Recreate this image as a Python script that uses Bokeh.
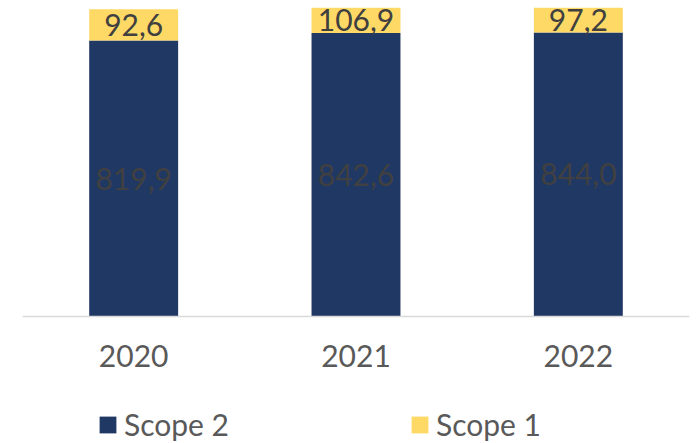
from bokeh.plotting import figure
from bokeh.models import (ColumnDataSource, FactorRange, Range1d, Legend, LegendItem)
from bokeh.core.properties import value
from bokeh.embed import file_html
from bokeh.resources import INLINE

years = ["2020", "2021", "2022"]
scope2 = [819.9, 842.6, 844.0]
scope1 = [92.6, 106.9, 97.2]
series_names = ["Scope 2", "Scope 1"]
colors = ["#203864", "#FFD966"]
YMAX = 918.0  # visible top of value axis (tops are cut off in the original)

# layout (pixels)
TOP, PLOT_H, BELOW = 7, 309, 127
YMIN = -YMAX * BELOW / PLOT_H   # room under the baseline for labels and legend

def fmt(v):
    return f"{v:.1f}".replace(".", ",")

src = ColumnDataSource(dict(year=years, s2=scope2, s1=scope1))

p = figure(width=697, height=443, frame_width=667, frame_height=PLOT_H + BELOW,
           output_backend="svg", toolbar_location=None,
           x_range=FactorRange(*years, range_padding=0),
           y_range=Range1d(YMIN, YMAX),
           min_border_left=22, min_border_right=8, min_border_top=TOP,
           min_border_bottom=0)
p.outline_line_color = None
p.xgrid.grid_line_color = None
p.ygrid.grid_line_color = None
p.yaxis.visible = False
p.background_fill_color = "white"
p.border_fill_color = "white"

rs = p.vbar_stack(["s2", "s1"], x="year", width=0.4, source=src,
                  color=colors, line_color=None)

FONT = "Lato"
FS = "30px"
lab2 = ColumnDataSource(dict(x=years, y=[v / 2 for v in scope2],
                             t=[fmt(v) for v in scope2]))
lab1 = ColumnDataSource(dict(x=years,
                             y=[(a + min(a + b, YMAX)) / 2 for a, b in zip(scope2, scope1)],
                             t=[fmt(v) for v in scope1]))
for s in (lab2, lab1):
    p.text(x="x", y="y", text="t", source=s, text_align="center",
           text_baseline="middle", text_color="#404040",
           text_font=value(FONT), text_font_size=FS)

ax = p.xaxis[0]
ax.fixed_location = 0
ax.axis_line_color = "#D9D9D9"
ax.axis_line_width = 1.5
ax.major_tick_line_color = None
ax.minor_tick_line_color = None
ax.major_tick_out = 0
ax.major_label_standoff = 28
ax.major_label_text_font = FONT
ax.major_label_text_font_size = FS
ax.major_label_text_color = "#595959"

legend = Legend(items=[LegendItem(label=series_names[0], renderers=[rs[0]]),
                       LegendItem(label=series_names[1], renderers=[rs[1]])],
                orientation="horizontal", location=(75, 1),
                glyph_width=21, glyph_height=21, label_standoff=6, spacing=180,
                label_text_font=FONT, label_text_font_size=FS,
                label_text_color="#595959", border_line_color=None,
                background_fill_alpha=0, padding=0, margin=0)
p.add_layout(legend, "center")

open("out.html", "w").write(file_html(p, INLINE))
